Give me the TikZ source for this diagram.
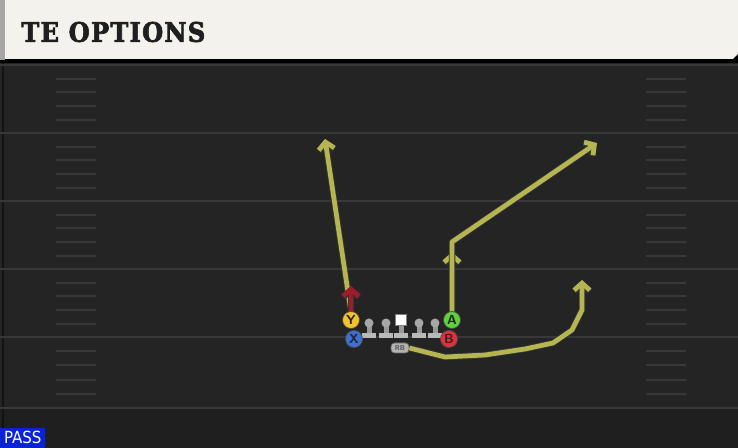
\documentclass[tikz,border=0pt]{standalone}
\usepackage{fontspec}
\usepackage{graphicx}
\usetikzlibrary{arrows.meta}
\newfontfamily\titlefont{DejaVuSerif-Bold.ttf}[FakeBold=2.5, LetterSpace=5]
\newfontfamily\tagfont{DejaVu Sans Condensed}
\definecolor{field}{HTML}{242424}
\definecolor{yard}{HTML}{383838}
\definecolor{cream}{HTML}{F4F2EC}
\definecolor{olivel}{HTML}{B5B552}
\definecolor{blockred}{HTML}{9E1B2A}
\definecolor{btnY}{HTML}{F2C12E}
\definecolor{btnX}{HTML}{3F6FD2}
\definecolor{btnA}{HTML}{5DD23A}
\definecolor{btnB}{HTML}{E2303A}
\definecolor{passblue}{HTML}{0A22D8}

\begin{document}
\begin{tikzpicture}[x=0.02cm, y=-0.02cm,
    yardline/.style={draw=yard, line width=1.1pt},
    hash/.style={draw=yard, line width=0.9pt},
    route/.style={draw=olivel, line width=2.7pt, line join=round,
      -{Straight Barb[length=4pt,width=9pt]},
      preaction={draw=black!80, line width=3.7pt}},
    btn/.style={circle, draw=black!70, line width=0.4pt, minimum size=17*0.02cm,
      inner sep=0pt, font=\sffamily\bfseries\fontsize{7.5}{7.5}\selectfont, text=black!85}]
      \useasboundingbox (0,0) rectangle (738,448);
      % field and yard lines
      \fill[field] (0,0) rectangle (738,448);
      \fill[field!85!black] (0,408) rectangle (738,448);
      \draw[black!50!field, line width=1pt] (3,60) -- (3,448);
      \foreach \y in {65,133,201,269,337,408}
        \draw[yardline] (0,\y) -- (738,\y);
      \foreach \y in {79,92,106,120,147,160,174,188,215,228,242,256,283,296,310,324,351,365,380,394} {
        \draw[hash] (56,\y) -- (96,\y);
        \draw[hash] (646,\y) -- (686,\y);
      }
      % title bar
      \fill[black] (0,56) rectangle (738,63);
      \fill[cream] (5,0) -- (738,0) -- (738,54) -- (733,59) -- (5,59) -- cycle;
      \fill[gray!70] (0,0) rectangle (5,60);
      \node[anchor=west, inner sep=0pt, text=black!88] (title) at (21,32)
        {\resizebox{3.68cm}{0.4cm}{\titlefont\fontsize{15.5}{16}\selectfont TE OPTIONS}};
      \node[fill=passblue, text=white, anchor=south west, inner sep=0pt,
        minimum width=0.9cm, minimum height=0.4cm,
        font=\tagfont\fontsize{9.5}{10}\selectfont] (pass) at (0,448) {PASS};
      % offensive line
      \foreach \x/\n in {369/lt,386/lg,419/rg,435/rt} {
        \fill[gray!80] (\x-2.5,325) rectangle (\x+2.5,334);
        \fill[gray!55] (\x-7,333) rectangle (\x+7,338);
        \node[circle, fill=gray!70, inner sep=0pt, minimum size=0.18cm] (\n) at (\x,323) {};
      }
      \fill[gray!80] (398.5,324) rectangle (403.5,334);
      \fill[gray!55] (394,333) rectangle (408,338);
      \node[fill=white, draw=gray, line width=0.3pt, inner sep=0pt,
        minimum width=0.22cm, minimum height=0.22cm] (c) at (401,320) {};
      \node[fill=gray!60, draw=black!60, rounded corners=2pt, inner sep=0pt,
        minimum width=0.36cm, minimum height=0.2cm,
        font=\sffamily\bfseries\fontsize{4}{4}\selectfont, text=black!70] (rb) at (400,348) {RB};
      % routes
      \coordinate (ypost) at (325,139);
      \coordinate (yblock) at (351,286);
      \coordinate (acut) at (452,242);
      \coordinate (aopt) at (452,252);
      \coordinate (apost) at (597,143);
      \coordinate (rbwheel) at (582,280);
      \draw[route] (351,312) -- (ypost);
      \draw[route] (452,312) -- (aopt);
      \draw[route] (452,312) -- (acut) -- (apost);
      \draw[route] (rb.east) -- (445,357) -- (485,355) -- (525,349) -- (553,343)
        -- (572,330) -- (582,310) -- (rbwheel);
      \draw[draw=blockred, line width=2.7pt, -{Straight Barb[length=4pt,width=9pt]},
        preaction={draw=black!80, line width=3.5pt}] (351,312) -- (yblock);
      % receivers
      \node[btn, fill=btnY] (Y) at (351,320) {Y};
      \node[btn, fill=btnX] (X) at (354,339) {X};
      \node[btn, fill=btnA] (A) at (452,320) {A};
      \node[btn, fill=btnB] (B) at (449,339) {B};
    \end{tikzpicture}
\end{document}
